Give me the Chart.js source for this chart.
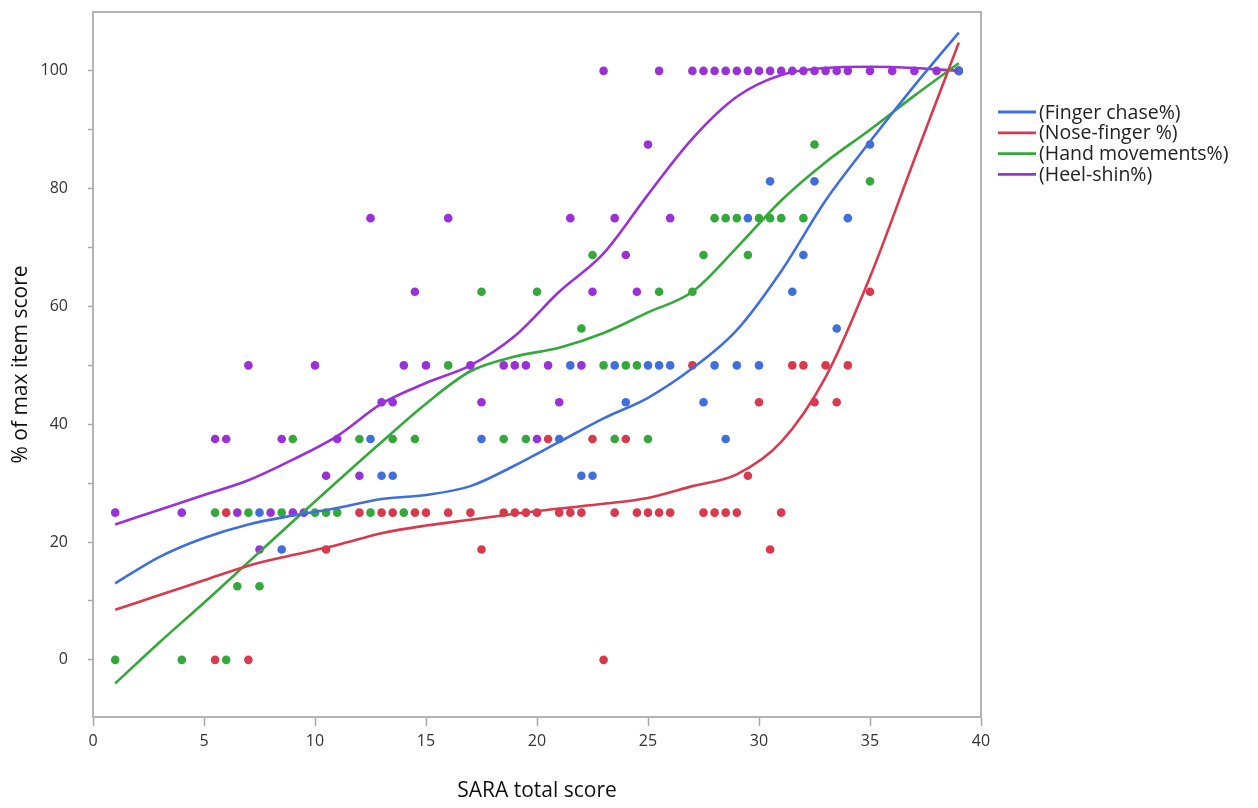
<!DOCTYPE html>
<html>
<head>
<meta charset="utf-8">
<script src="https://cdn.jsdelivr.net/npm/chart.js@4.4.1/dist/chart.umd.min.js"></script>
<style>
html,body{margin:0;padding:0;background:#fff;}
#wrap{width:1258px;height:808px;position:relative;}
</style>
</head>
<body>
<div id="wrap"><canvas id="c" width="1258" height="808"></canvas></div>
<script>
// ---- data ----
const seriesNames = ['(Finger chase%)', '(Nose-finger %)', '(Hand movements%)', '(Heel-shin%)'];
const xTickValues = [0, 5, 10, 15, 20, 25, 30, 35, 40];
const yTickValues = [0, 10, 20, 30, 40, 50, 60, 70, 80, 90, 100];

const fingerChaseX = [7.5, 8.5, 12.5, 13, 13.5, 17.5, 21, 21.5, 22, 22.5, 23.5, 24, 25, 25.5, 26, 27.5, 28, 28.5, 29, 29.5, 30, 30.5, 31.5, 32, 32.5, 33.5, 34, 35, 39];
const fingerChaseY = [25, 18.75, 37.5, 31.25, 31.25, 37.5, 37.5, 50, 31.25, 31.25, 50, 43.75, 50, 50, 50, 43.75, 50, 37.5, 50, 75, 50, 81.25, 62.5, 68.75, 81.25, 56.25, 75, 87.5, 100];

const noseFingerX = [5.5, 7, 6, 10.5, 12, 13, 13.5, 14.5, 15, 16, 17, 17.5, 18.5, 19, 19.5, 20, 20.5, 21, 21.5, 22, 22.5, 23, 23.5, 24, 24.5, 25, 25.5, 26, 27, 27.5, 28, 28.5, 29, 29.5, 30, 30.5, 31, 31.5, 32, 32.5, 33, 33.5, 34, 35, 39];
const noseFingerY = [0, 0, 25, 18.75, 25, 25, 25, 25, 25, 25, 25, 18.75, 25, 25, 25, 25, 37.5, 25, 25, 25, 37.5, 0, 25, 37.5, 25, 25, 25, 25, 50, 25, 25, 25, 25, 31.25, 43.75, 18.75, 25, 50, 50, 43.75, 50, 43.75, 50, 62.5, 100];

const handMovX = [1, 4, 6, 5.5, 6.5, 7, 7.5, 8.5, 9, 10, 10.5, 11, 12, 12.5, 13.5, 14, 14.5, 16, 17.5, 18.5, 19.5, 20, 22, 22.5, 23, 23.5, 24, 24.5, 25, 25.5, 27, 27.5, 28, 28.5, 29, 29.5, 30, 30.5, 31, 32, 32.5, 35, 39];
const handMovY = [0, 0, 0, 25, 12.5, 25, 12.5, 25, 37.5, 25, 25, 25, 37.5, 25, 37.5, 25, 37.5, 50, 62.5, 37.5, 37.5, 62.5, 56.25, 68.75, 50, 37.5, 50, 50, 37.5, 62.5, 62.5, 68.75, 75, 75, 75, 68.75, 75, 75, 75, 75, 87.5, 81.25, 100];

const heelShinX = [1, 4, 5.5, 6, 6.5, 7, 7.5, 8, 8.5, 9, 9.5, 10, 10.5, 11, 12, 12.5, 13, 13.5, 14, 14.5, 15, 16, 17, 17.5, 18.5, 19, 19.5, 20, 20.5, 21, 21.5, 22, 22.5, 23, 23.5, 24, 24.5, 25, 25.5, 26, 27, 27.5, 28, 28.5, 29, 29.5, 30, 30.5, 31, 31.5, 32, 32.5, 33, 33.5, 34, 35, 36, 37, 38, 39];
const heelShinY = [25, 25, 37.5, 37.5, 25, 50, 18.75, 25, 37.5, 25, 25, 50, 31.25, 37.5, 31.25, 75, 43.75, 43.75, 50, 62.5, 50, 75, 50, 43.75, 50, 50, 50, 37.5, 50, 43.75, 75, 50, 62.5, 100, 75, 68.75, 62.5, 87.5, 100, 75, 100, 100, 100, 100, 100, 100, 100, 100, 100, 100, 100, 100, 100, 100, 100, 100, 100, 100, 100, 100];

// smoothing-curve values read at these SARA scores
const curveX = [1, 3, 5, 7, 9, 11, 13, 15, 17, 19, 21, 23, 25, 27, 29, 31, 33, 35, 37, 39];
const fingerChaseFit = [13, 17.5, 20.7, 23, 24.5, 25.8, 27.3, 28, 29.5, 33, 37, 41, 44.5, 49.5, 56, 66, 78, 88, 97.5, 106.5];
const noseFingerFit  = [8.5, 11, 13.5, 16, 17.8, 19.5, 21.5, 22.8, 23.8, 24.8, 25.7, 26.5, 27.5, 29.5, 31.5, 37, 48, 65, 85, 104.8];
const handMovFit     = [-4, 3, 9.7, 16.6, 23.5, 30.3, 37, 43.5, 49, 51.5, 53, 55.5, 59, 62.5, 70, 78, 84.5, 90, 95.8, 101.3];
const heelShinFit    = [23, 25.5, 28, 30.5, 34, 38, 43.5, 47, 50, 55, 62.5, 69, 79, 88.5, 95.6, 99.3, 100.5, 100.7, 100.5, 100];

const seriesColors = ['#3f6fdb', '#d8394c', '#34a83a', '#9a30d8'];

// ---- build datasets ----
const zip = (xs, ys) => xs.map((x, i) => ({x: x, y: ys[i]}));
const pointSets = [[fingerChaseX, fingerChaseY], [noseFingerX, noseFingerY], [handMovX, handMovY], [heelShinX, heelShinY]];
const fitSets = [fingerChaseFit, noseFingerFit, handMovFit, heelShinFit];

const datasets = [];
fitSets.forEach((fit, i) => {
  datasets.push({
    type: 'line', label: seriesNames[i], data: zip(curveX, fit),
    borderColor: seriesColors[i], backgroundColor: seriesColors[i],
    borderWidth: 2.6, pointRadius: 0, tension: 0.4, cubicInterpolationMode: 'monotone',
    fill: false, order: 0
  });
});
pointSets.forEach((p, i) => {
  datasets.push({
    type: 'scatter', label: seriesNames[i] + ' points', data: zip(p[0], p[1]),
    backgroundColor: seriesColors[i], borderColor: seriesColors[i],
    pointRadius: 4.3, pointBorderWidth: 0, showLine: false, order: 1
  });
});

const framePlugin = {
  id: 'frame',
  beforeDatasetsDraw(chart) {
    const a = chart.chartArea, ctx = chart.ctx;
    ctx.save();
    ctx.strokeStyle = '#b4b4b4';
    ctx.lineWidth = 2;
    ctx.strokeRect(a.left, a.top, a.right - a.left, a.bottom - a.top);
    ctx.restore();
  }
};

const legendPlugin = {
  id: 'sideLegend',
  afterDraw(chart) {
    const ctx = chart.ctx;
    ctx.save();
    ctx.font = '19.5px "Open Sans", sans-serif';
    ctx.textBaseline = 'middle';
    ctx.textAlign = 'left';
    seriesNames.forEach((name, i) => {
      const y = 112 + i * 20.8;
      ctx.strokeStyle = seriesColors[i];
      ctx.lineWidth = 2.8;
      ctx.beginPath();
      ctx.moveTo(998, y);
      ctx.lineTo(1036, y);
      ctx.stroke();
      ctx.fillStyle = '#222';
      ctx.fillText(name, 1039, y + 1);
    });
    ctx.restore();
  }
};

new Chart(document.getElementById('c'), {
  type: 'scatter',
  data: {datasets: datasets},
  options: {
    responsive: false,
    animation: false,
    devicePixelRatio: 1,
    layout: {padding: {top: 12, right: 277, left: 0, bottom: 0}},
    plugins: {legend: {display: false}, tooltip: {enabled: false}},
    scales: {
      x: {
        type: 'linear', min: 0, max: 40,
        afterBuildTicks: s => { s.ticks = xTickValues.map(v => ({value: v})); },
        afterFit: s => { s.height = 91; s.paddingLeft = 0; s.paddingRight = 0; },
        ticks: {font: {family: 'Open Sans', size: 16}, color: '#333', padding: 6},
        grid: {drawOnChartArea: false, drawTicks: true, tickLength: 9, color: '#a8a8a8', tickWidth: 1.5},
        border: {color: '#a8a8a8', width: 2},
        title: {display: true, text: 'SARA total score', font: {family: 'Open Sans', size: 21}, color: '#111', padding: {top: 0, bottom: 4}}
      },
      y: {
        type: 'linear', min: -9.7, max: 110,
        afterBuildTicks: s => { s.ticks = yTickValues.map(v => ({value: v})); },
        afterFit: s => { s.width = 93; s.paddingTop = 0; s.paddingBottom = 0; },
        ticks: {font: {family: 'Open Sans', size: 16}, color: '#333', padding: 20,
                callback: v => (v % 20 === 0 ? String(v) : '')},
        grid: {drawOnChartArea: false, drawTicks: true, tickLength: 5, color: '#a8a8a8', tickWidth: 1.5},
        border: {color: '#a8a8a8', width: 2},
        title: {display: true, text: '% of max item score', font: {family: 'Open Sans', size: 21}, color: '#111', padding: {top: 8, bottom: 0}}
      }
    }
  },
  plugins: [framePlugin, legendPlugin]
});
</script>
</body>
</html>
